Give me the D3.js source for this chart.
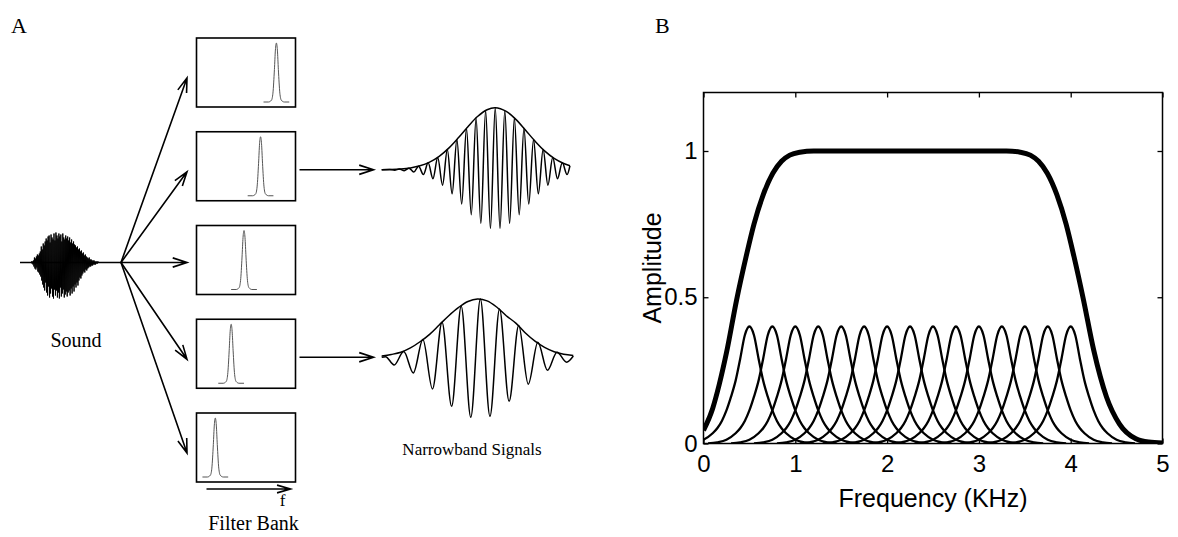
<!DOCTYPE html>
<html>
<head>
<meta charset="utf-8">
<script src="https://cdn.jsdelivr.net/npm/d3@7"></script>
<style>
  body { margin: 0; background: #fff; }
  svg { display: block; }
</style>
</head>
<body>
<svg id="fig" width="1178" height="537"></svg>
<script>
// ---------------- Panel B: filter bank responses ----------------
const freqTicks = [0, 1, 2, 3, 4, 5];
const ampTicks = [0, 0.5, 1];
// centre frequency (kHz) of each bandpass filter
const filterCenters = [0.5, 0.75, 1.0, 1.25, 1.5, 1.75, 2.0, 2.25, 2.5, 2.75, 3.0, 3.25, 3.5, 3.75, 4.0];
// response of one filter: [offset from centre (kHz), amplitude]
const filterShape = [
  [-0.7, 0], [-0.6, 0.004], [-0.5, 0.013], [-0.4, 0.035], [-0.35, 0.052], [-0.3, 0.077],
  [-0.25, 0.113], [-0.2, 0.16], [-0.15, 0.215], [-0.1, 0.29], [-0.05, 0.37], [0, 0.4],
  [0.05, 0.37], [0.1, 0.29], [0.15, 0.215], [0.2, 0.16], [0.25, 0.113], [0.3, 0.077],
  [0.35, 0.052], [0.4, 0.035], [0.5, 0.013], [0.6, 0.004], [0.7, 0]
];
// combined response of the whole bank: [kHz, amplitude]
const bankResponse = [
  [0, 0.045], [0.1, 0.12], [0.17, 0.2], [0.25, 0.31], [0.36, 0.49], [0.465, 0.64],
  [0.55, 0.75], [0.65, 0.85], [0.755, 0.924], [0.85, 0.965], [0.94, 0.986], [1.05, 0.996],
  [1.2, 1.0], [3.3, 1.0], [3.45, 0.996], [3.56, 0.986], [3.65, 0.965], [3.745, 0.924],
  [3.85, 0.85], [3.95, 0.75], [4.035, 0.64], [4.14, 0.49], [4.25, 0.32], [4.39, 0.159],
  [4.53, 0.067], [4.71, 0.016], [4.85, 0.005], [5.0, 0.002]
];

// ---------------- Panel A: schematic ----------------
// recorded sound burst, consecutive samples
const soundSamples = [
  0, 1, -1, 1, -2, 2,
  -4, 5, -6, 4, -7, 6, -5, 8, -9, 7, -10, 9, -12, 11,
  -14, 16, -18, 13, -22, 19, -25, 17, -28, 21, -20, 24,
  -30, 22, -33, 26, -24, 27, -35, 20, -31, 28, -26, 25, -34, 23, -36, 29, -27, 22,
  -33, 30, -28, 27, -35, 24, -30, 29, -36, 26, -25, 28, -34, 21, -31, 29, -27, 25, -35, 23,
  -32, 27, -29, 24, -34, 26, -30, 22, -28, 25, -33, 20, -26, 23, -31, 19, -24, 21, -29, 18,
  -22, 17, -25, 15, -20, 16, -23, 13, -18, 14, -15, 11, -16, 12, -13, 9, -11, 10, -9, 7,
  -10, 8, -7, 6, -8, 5, -6, 4, -5, 5, -4, 3, -4, 3, -3, 2, -3, 2, -2, 2,
  -2, 1, -2, 1, -1, 1, -1, 1, 0, 0
];
// passband centre drawn in each small filter box (box frequency units 0..10)
const boxCenters = [8.07, 6.47, 4.8, 3.5, 1.9];
const miniShape = [
  [-1.3, 0], [-0.8, 0], [-0.5, 0.03], [-0.35, 0.15], [-0.2, 0.55], [-0.1, 0.88], [0, 1],
  [0.1, 0.88], [0.2, 0.55], [0.35, 0.15], [0.5, 0.03], [0.8, 0], [1.3, 0]
];
// high narrowband output: [time, value] at its turning points
const highBand = [
  [0, 0], [0.85, 0.004], [1.35, -0.007], [1.85, 0.011], [2.35, -0.016], [2.85, 0.026],
  [3.35, -0.037], [3.85, 0.057], [4.35, -0.077], [4.85, 0.111], [5.35, -0.144], [5.85, 0.199],
  [6.35, -0.248], [6.85, 0.326], [7.35, -0.387], [7.85, 0.488], [8.35, -0.554], [8.85, 0.668],
  [9.35, -0.726], [9.85, 0.836], [10.35, -0.868], [10.85, 0.956], [11.35, -0.949], [11.85, 1.0],
  [12.35, -0.949], [12.85, 0.956], [13.35, -0.868], [13.85, 0.836], [14.35, -0.726], [14.85, 0.668],
  [15.35, -0.554], [15.85, 0.488], [16.35, -0.387], [16.85, 0.326], [17.35, -0.248], [17.85, 0.199],
  [18.35, -0.144], [18.85, 0.111], [19.35, -0.077], [19.65, 0.065]
];
const highEnvelope = [
  [0, 0.002], [1, 0.005], [2, 0.013], [3, 0.03], [4, 0.063], [5, 0.122], [6, 0.216],
  [7, 0.349], [8, 0.515], [9, 0.695], [10, 0.858], [11, 0.968], [11.85, 1.0], [13, 0.942],
  [14, 0.813], [15, 0.641], [16, 0.462], [17, 0.304], [18, 0.183], [19, 0.101], [19.65, 0.065]
];
// low narrowband output: [time, value] at its turning points
const lowBand = [
  [0, 0], [0.4, 0.01], [1.3, -0.124], [2.3, 0.092], [3.3, -0.253], [4.3, 0.285], [5.3, -0.511],
  [6.3, 0.565], [7.3, -0.79], [8.3, 0.823], [9.3, -0.968], [10.3, 0.94], [11.3, -0.952],
  [12.3, 0.78], [13.3, -0.71], [14.3, 0.511], [15.3, -0.435], [16.3, 0.242], [17.3, -0.21],
  [18.3, 0.081], [19.3, -0.08], [20, 0.02]
];
const lowEnvelope = [
  [0, 0.02], [1, 0.045], [2, 0.08], [3, 0.15], [4, 0.25], [5, 0.37], [6, 0.52], [7, 0.67],
  [8, 0.8], [9, 0.9], [10, 0.94], [11, 0.91], [12, 0.81], [13, 0.67], [14, 0.55], [15, 0.39],
  [16, 0.26], [17, 0.16], [18, 0.09], [19, 0.05], [20, 0.03]
];

const SERIF = "'Liberation Serif', 'Times New Roman', serif";
const SANS = "'Liberation Sans', Arial, Helvetica, sans-serif";

const svg = d3.select("#fig");

// ================= Panel A =================
const A = svg.append("g");

A.append("text").attr("x", 11).attr("y", 33)
  .style("font-family", SERIF).style("font-size", "22px").text("A");

// open-headed arrow
function arrow(g, x1, y1, x2, y2, len = 15, ang = 18) {
  const a = Math.atan2(y2 - y1, x2 - x1), t = ang * Math.PI / 180;
  const p1 = [x2 - len * Math.cos(a - t), y2 - len * Math.sin(a - t)];
  const p2 = [x2 - len * Math.cos(a + t), y2 - len * Math.sin(a + t)];
  g.append("path")
    .attr("d", `M${x1},${y1}L${x2},${y2}M${p1[0]},${p1[1]}L${x2},${y2}L${p2[0]},${p2[1]}`)
    .attr("fill", "none").attr("stroke", "#000").attr("stroke-width", 1.6)
    .attr("stroke-linejoin", "miter");
}

// filter bank boxes
const boxW = 99, boxH = 69, boxX = 196.5;
const boxTop = d3.scaleLinear().domain([0, boxCenters.length - 1]).range([38, 413]);
const boxFreq = d3.scaleLinear().domain([0, 10]).range([0, boxW]);
const boxAmp = d3.scaleLinear().domain([0, 1]).range([boxH - 5, 5]);
const miniLine = d3.line().x(d => boxFreq(d[0])).y(d => boxAmp(d[1])).curve(d3.curveMonotoneX);

boxCenters.forEach((c, i) => {
  const g = A.append("g").attr("transform", `translate(${boxX},${boxTop(i)})`);
  g.append("rect").attr("width", boxW).attr("height", boxH)
    .attr("fill", "none").attr("stroke", "#000").attr("stroke-width", 1.6);
  g.append("path").datum(miniShape.map(d => [c + d[0], d[1]]))
    .attr("d", miniLine).attr("fill", "none").attr("stroke", "#555").attr("stroke-width", 1);
});

// sound burst
const soundY = boxTop(2) + 37;
const soundX = d3.scaleLinear().domain([0, soundSamples.length - 1]).range([31, 99]);
const soundAmp = d3.scaleLinear().domain([-36, 36]).range([soundY + 36, soundY - 36]);
A.append("line").attr("x1", 20).attr("x2", 121).attr("y1", soundY).attr("y2", soundY)
  .attr("stroke", "#000").attr("stroke-width", 1.6);
A.append("path").datum(soundSamples)
  .attr("d", d3.line().x((d, i) => soundX(i)).y(d => soundAmp(d)))
  .attr("fill", "none").attr("stroke", "#000").attr("stroke-width", 1);

// branches from the sound to each filter
const hub = [121, soundY];
boxCenters.forEach((c, i) => {
  arrow(A, hub[0], hub[1], boxX - 9.5, boxTop(i) + 40 - (i === 2 ? 3 : 0));
});

A.append("text").attr("x", 76).attr("y", 347).attr("text-anchor", "middle")
  .style("font-family", SERIF).style("font-size", "20px").text("Sound");

// frequency axis arrow under the bank
const fy = boxTop(4) + boxH + 7;
arrow(A, boxX + 10, fy, boxX + 94, fy, 14, 16);
A.append("text").attr("x", boxX + 86).attr("y", 506).attr("text-anchor", "middle")
  .style("font-family", SERIF).style("font-size", "17px").text("f");
A.append("text").attr("x", boxX + 57).attr("y", 530).attr("text-anchor", "middle")
  .style("font-family", SERIF).style("font-size", "20px").text("Filter Bank");

// narrowband outputs
const sigX = d3.scaleLinear().domain([0, 20]).range([381.7, 573.3]);
const sigAmp = d3.scaleLinear().domain([-1, 1]).range([62, -62]);
const sigLine = d3.line().x(d => sigX(d[0])).y(d => sigAmp(d[1])).curve(d3.curveMonotoneX);
const envLine = d3.line().x(d => sigX(d[0])).y(d => sigAmp(d[1])).curve(d3.curveCatmullRom);

[[1, highBand, highEnvelope], [3, lowBand, lowEnvelope]].forEach(([bi, band, env]) => {
  const y0 = boxTop(bi) + 38;
  arrow(A, boxX + boxW + 4, y0, boxX + boxW + 78, y0);
  const g = A.append("g").attr("transform", `translate(0,${y0})`);
  g.append("path").datum(band).attr("d", sigLine)
    .attr("fill", "none").attr("stroke", "#000").attr("stroke-width", 1.5);
  g.append("path").datum(env).attr("d", envLine)
    .attr("fill", "none").attr("stroke", "#000").attr("stroke-width", 1.5);
});

A.append("text").attr("x", 472).attr("y", 455).attr("text-anchor", "middle")
  .style("font-family", SERIF).style("font-size", "17px").text("Narrowband Signals");

// ================= Panel B =================
svg.append("text").attr("x", 655).attr("y", 33)
  .style("font-family", SERIF).style("font-size", "22px").text("B");

const L = 703.5, R = 1162.5, T = 92.5, Bt = 443.5;
const x = d3.scaleLinear().domain([0, 5]).range([L, R]);
const y = d3.scaleLinear().domain([0, 1.2]).range([Bt, T]);
const B = svg.append("g");

B.append("clipPath").attr("id", "plotclip").append("rect")
  .attr("x", L).attr("y", T).attr("width", R - L).attr("height", Bt - T);

const curve = d3.line().x(d => x(d[0])).y(d => y(d[1])).curve(d3.curveMonotoneX);
const plot = B.append("g").attr("clip-path", "url(#plotclip)");

filterCenters.forEach(c => {
  plot.append("path")
    .datum(filterShape.map(d => [c + d[0], d[1]]))
    .attr("d", curve).attr("fill", "none").attr("stroke", "#000").attr("stroke-width", 2.3);
});
plot.append("path").datum(bankResponse).attr("d", curve)
  .attr("fill", "none").attr("stroke", "#000").attr("stroke-width", 5)
  .attr("stroke-linejoin", "round");

// frame and inward ticks
const fmt = d => d === 0.5 ? "0.5" : d3.format("d")(d);
function styleAxis(g) {
  g.select(".domain").remove();
  g.selectAll("line").attr("stroke", "#000").attr("stroke-width", 1.3);
  g.selectAll("text").style("font-family", SANS).style("font-size", "24px").attr("fill", "#000");
}
B.append("g").attr("transform", `translate(0,${Bt})`)
  .call(d3.axisBottom(x).tickValues(freqTicks).tickFormat(fmt).tickSizeInner(-5).tickSizeOuter(0).tickPadding(11))
  .call(styleAxis);
B.append("g").attr("transform", `translate(0,${T})`)
  .call(d3.axisTop(x).tickValues(freqTicks).tickFormat("").tickSizeInner(-5).tickSizeOuter(0))
  .call(styleAxis);
B.append("g").attr("transform", `translate(${L},0)`)
  .call(d3.axisLeft(y).tickValues(ampTicks).tickFormat(fmt).tickSizeInner(-5).tickSizeOuter(0).tickPadding(6))
  .call(styleAxis);
B.append("g").attr("transform", `translate(${R},0)`)
  .call(d3.axisRight(y).tickValues(ampTicks).tickFormat("").tickSizeInner(-5).tickSizeOuter(0))
  .call(styleAxis);
B.append("rect").attr("x", L).attr("y", T).attr("width", R - L).attr("height", Bt - T)
  .attr("fill", "none").attr("stroke", "#000").attr("stroke-width", 1.5);

B.append("text").attr("x", (L + R) / 2).attr("y", 507).attr("text-anchor", "middle")
  .style("font-family", SANS).style("font-size", "25px").text("Frequency (KHz)");
B.append("text").attr("transform", `translate(661,${(T + Bt) / 2}) rotate(-90)`)
  .attr("text-anchor", "middle")
  .style("font-family", SANS).style("font-size", "25px").text("Amplitude");
</script>
</body>
</html>
